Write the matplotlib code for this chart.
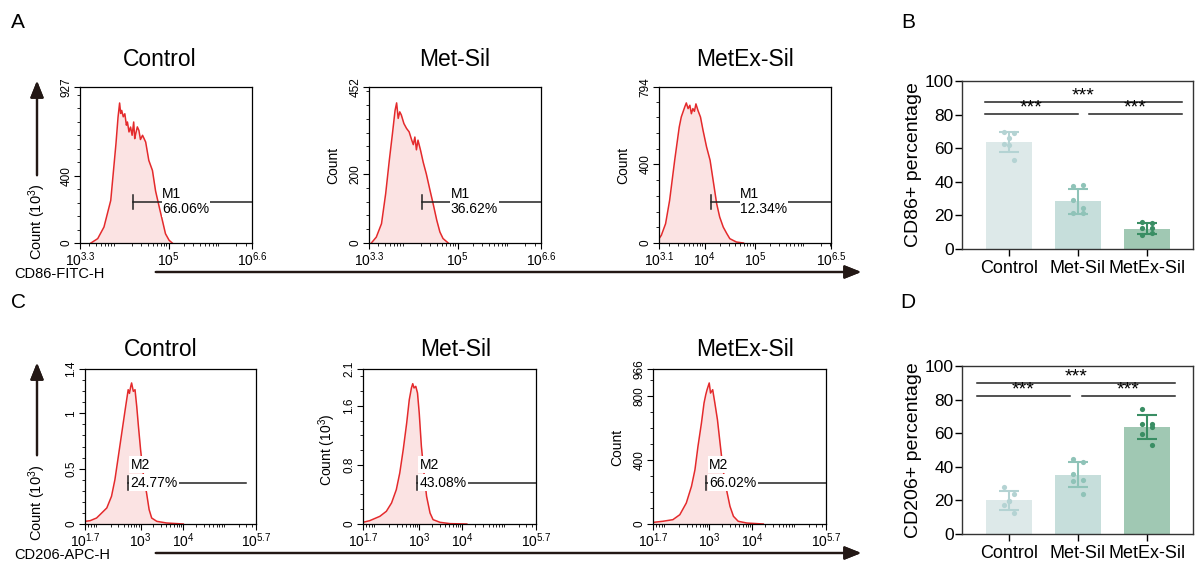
import numpy as np
import matplotlib.pyplot as plt
from matplotlib.ticker import MultipleLocator, LogLocator, NullFormatter

plt.rcParams['font.family'] = ['Liberation Sans', 'DejaVu Sans']
plt.rcParams['mathtext.default'] = 'regular'

W, H = 1196, 564
RED = '#e42a2c'
FILL = '#fbe3e3'

groups = ['Control', 'Met-Sil', 'MetEx-Sil']

# CD86 histograms, x = log10(intensity), y = count
cd86_ctrl_x = [3.51, 3.64, 3.76, 3.89, 3.99, 4.03, 4.06, 4.08, 4.10, 4.13, 4.16, 4.19, 4.21, 4.24,
               4.27, 4.30, 4.33, 4.35, 4.37, 4.40, 4.43, 4.46, 4.50, 4.56, 4.62, 4.69, 4.75,
               4.82, 4.88, 4.94, 5.01, 5.07]
cd86_ctrl_y = [0, 26, 95, 253, 590, 748, 832, 770, 788, 750, 768, 700, 719, 660, 689, 640, 719,
               620, 650, 690, 669, 615, 640, 600, 491, 431, 309, 214, 135, 55, 16, 0]
cd86_met_x = [3.345, 3.44, 3.54, 3.62, 3.69, 3.75, 3.80, 3.83, 3.86, 3.89, 3.92, 3.97, 4.02,
              4.07, 4.12, 4.15, 4.18, 4.21, 4.24, 4.29, 4.34, 4.40, 4.47, 4.53, 4.60, 4.66,
              4.72, 4.82]
cd86_met_y = [0, 17, 56, 143, 240, 317, 384, 406, 361, 380, 371, 346, 332, 322, 298, 285, 307,
              270, 298, 268, 234, 200, 153, 114, 66, 32, 13, 0]
cd86_metex_x = [3.10, 3.146, 3.23, 3.31, 3.41, 3.50, 3.54, 3.61, 3.64, 3.675, 3.71, 3.74, 3.77,
                3.80, 3.83, 3.87, 3.92, 3.97, 4.04, 4.11, 4.17, 4.24, 4.30, 4.37, 4.44, 4.50,
                4.63, 4.77]
cd86_metex_y = [22, 39, 98, 217, 421, 590, 641, 693, 713, 684, 701, 658, 684, 670, 708, 675,
                641, 574, 489, 421, 319, 200, 132, 81, 48, 22, 5, 0]

# CD206 histograms
cd206_ctrl_x = [1.70, 1.82, 1.97, 2.05, 2.21, 2.32, 2.40, 2.48, 2.56, 2.64, 2.71, 2.74, 2.77,
                2.79, 2.83, 2.87, 2.91, 2.95, 3.00, 3.06, 3.14, 3.20, 3.26, 3.38, 3.61, 4.00]
cd206_ctrl_y = [0.024, 0.030, 0.054, 0.084, 0.145, 0.250, 0.401, 0.611, 0.822, 1.033, 1.213,
                1.18, 1.243, 1.274, 1.198, 1.213, 1.062, 0.882, 0.672, 0.461, 0.280, 0.130,
                0.054, 0.024, 0.009, 0.0]
cd206_met_x = [1.70, 1.855, 2.09, 2.24, 2.36, 2.47, 2.55, 2.63, 2.71, 2.77, 2.82, 2.85, 2.88,
               2.92, 2.96, 3.00, 3.05, 3.11, 3.17, 3.25, 3.32, 3.48, 3.71, 4.10]
cd206_met_y = [0.023, 0.045, 0.104, 0.172, 0.285, 0.465, 0.691, 1.007, 1.368, 1.684, 1.843,
               1.901, 1.843, 1.865, 1.775, 1.504, 1.052, 0.691, 0.375, 0.149, 0.059, 0.023,
               0.005, 0.0]
cd206_metex_x = [1.70, 1.93, 2.16, 2.32, 2.47, 2.59, 2.67, 2.74, 2.82, 2.88, 2.92, 2.95, 3.00,
                 3.03, 3.08, 3.13, 3.19, 3.25, 3.32, 3.40, 3.48, 3.56, 3.67, 3.87, 4.25]
cd206_metex_y = [10, 17, 27, 58, 131, 235, 338, 484, 629, 754, 806, 837, 879, 816, 837, 754,
                 650, 505, 338, 213, 110, 48, 17, 6, 0]

# bar data
cd86_mean = [63.5, 28.5, 12.2]
cd86_sd = [6.0, 7.5, 3.2]
cd86_pts = [[69.7, 69.3, 66.3, 62.0, 62.5, 53.0],
            [37.4, 37.8, 29.1, 24.2, 21.6, 21.6],
            [16.2, 15.2, 12.3, 12.3, 8.3, 9.3]]
cd206_mean = [20.0, 35.2, 63.6]
cd206_sd = [5.5, 7.5, 7.0]
cd206_pts = [[27.7, 24.0, 19.4, 19.6, 17.0, 12.5],
             [44.6, 42.6, 35.6, 32.3, 31.5, 24.0],
             [74.3, 65.5, 65.5, 63.6, 59.4, 53.0]]
jitter = [-0.07, 0.07, -0.07, 0.07, -0.07, 0.07]
jitter_mid = [-0.07, 0.07, 0.0, 0.0, -0.07, 0.07]

bar_cols = ['#dde9e9', '#c6dedb', '#a0c8b3']
pt_cols = ['#b4d3d3', '#8fc3b8', '#3a8e64']

fig = plt.figure(figsize=(W / 100, H / 100), dpi=100)


def add_ax(l, t, r, b):
    return fig.add_axes([l / W, 1 - b / H, (r - l) / W, (b - t) / H])


def ftext(x, y, s, **kw):
    fig.text(x / W, 1 - y / H, s, **kw)


def farrow(x0, y0, x1, y1):
    fig.add_artist(plt.annotate('', xy=(x1 / W, 1 - y1 / H), xytext=(x0 / W, 1 - y0 / H),
                                xycoords='figure fraction',
                                arrowprops=dict(arrowstyle='-|>,head_length=1.0,head_width=0.4',
                                                color='#231815', lw=1.6)))


def hist(box, xs, ys, xlim, xt, xtl, ymax, yt, ytl, ymin_step, gate, gate_y, gate_end, label,
         style):
    ax = add_ax(*box)
    x = 10 ** np.array(xs)
    ax.fill_between(x, ys, color=FILL, lw=0)
    ax.plot(x, ys, color=RED, lw=1.1)
    ax.set_xscale('log')
    ax.set_xlim(10 ** xlim[0], 10 ** xlim[1])
    ax.set_ylim(0, ymax)
    ax.set_xticks([10 ** v for v in xt])
    ax.set_xticklabels(xtl, fontsize=10)
    ax.xaxis.set_minor_locator(LogLocator(base=10, subs=np.arange(2, 10), numticks=20))
    ax.xaxis.set_minor_formatter(NullFormatter())
    ax.set_yticks(yt)
    ax.set_yticklabels(ytl, fontsize=8.5, rotation=90, va='center')
    ax.yaxis.set_minor_locator(MultipleLocator(ymin_step))
    ax.tick_params(which='major', length=4, width=0.8, pad=1.5)
    ax.tick_params(which='minor', length=2.5, width=0.6)
    for s in ax.spines.values():
        s.set_linewidth(0.9)
    g = 10 ** gate
    ax.plot([g, 10 ** gate_end], [gate_y, gate_y], color='#222222', lw=1.1, zorder=3)
    ax.plot([g, g], [gate_y - ymax * 0.045, gate_y + ymax * 0.045], color='#222222', lw=1.1,
            zorder=3)
    name, pct = label
    if style == 'A':
        ax.annotate(name + '\n' + pct, xy=(g, gate_y), xytext=(21, 0), textcoords='offset points',
                    fontsize=10, va='center', ha='left', linespacing=1.1, zorder=4,
                    bbox=dict(fc='white', ec='none', pad=0.5))
    else:
        ax.annotate(pct, xy=(g, gate_y), xytext=(2, 0), textcoords='offset points',
                    fontsize=10, va='center', ha='left', zorder=4,
                    bbox=dict(fc='white', ec='none', pad=1))
        ax.annotate(name, xy=(g, gate_y), xytext=(2, 13), textcoords='offset points',
                    fontsize=10, va='center', ha='left', zorder=4,
                    bbox=dict(fc='white', ec='none', pad=1))
    return ax


# panel A
hist((80, 87, 252, 243), cd86_ctrl_x, cd86_ctrl_y, (3.3, 6.6), [3.3, 5, 6.6],
     ['10$^{3.3}$', '10$^{5}$', '10$^{6.6}$'], 927, [0, 400, 927], ['0', '400', '927'], 80,
     4.32, 244, 6.6, ('M1', '66.06%'), 'A')
hist((369, 87, 541, 243), cd86_met_x, cd86_met_y, (3.3, 6.6), [3.3, 5, 6.6],
     ['10$^{3.3}$', '10$^{5}$', '10$^{6.6}$'], 452, [0, 200, 452], ['0', '200', '452'], 40,
     4.31, 119, 6.6, ('M1', '36.62%'), 'A')
hist((659, 87, 831, 243), cd86_metex_x, cd86_metex_y, (3.1, 6.5), [3.1, 4, 5, 6.5],
     ['10$^{3.1}$', '10$^{4}$', '10$^{5}$', '10$^{6.5}$'], 794, [0, 400, 794],
     ['0', '400', '794'], 80, 4.13, 209, 6.5, ('M1', '12.34%'), 'A')

# panel C
hist((85, 369, 256, 524), cd206_ctrl_x, cd206_ctrl_y, (1.7, 5.7), [1.7, 3, 4, 5.7],
     ['10$^{1.7}$', '10$^{3}$', '10$^{4}$', '10$^{5.7}$'], 1.4, [0, 0.5, 1, 1.4],
     ['0', '0.5', '1', '1.4'], 0.1, 2.70, 0.373, 5.47, ('M2', '24.77%'), 'C')
hist((363, 369, 536, 524), cd206_met_x, cd206_met_y, (1.7, 5.7), [1.7, 3, 4, 5.7],
     ['10$^{1.7}$', '10$^{3}$', '10$^{4}$', '10$^{5.7}$'], 2.1, [0, 0.8, 1.6, 2.1],
     ['0', '0.8', '1.6', '2.1'], 0.2, 2.94, 0.56, 5.7, ('M2', '43.08%'), 'C')
hist((653, 369, 826, 524), cd206_metex_x, cd206_metex_y, (1.7, 5.7), [1.7, 3, 4, 5.7],
     ['10$^{1.7}$', '10$^{3}$', '10$^{4}$', '10$^{5.7}$'], 966, [0, 400, 800, 966],
     ['0', '400', '800', '966'], 100, 2.93, 257, 5.7, ('M2', '66.02%'), 'C')

# titles and labels
for x, s in zip([160, 455, 745], groups):
    ftext(x, 60, s, fontsize=16.5, ha='center', va='center')
for x, s in zip([161, 456, 745], groups):
    ftext(x, 349, s, fontsize=16.5, ha='center', va='center')

ftext(37, 222, 'Count (10$^3$)', fontsize=10.5, rotation=90, ha='center', va='center')
ftext(333, 165, 'Count', fontsize=10, rotation=90, ha='center', va='center')
ftext(623, 165, 'Count', fontsize=10, rotation=90, ha='center', va='center')
ftext(37, 503, 'Count (10$^3$)', fontsize=10.5, rotation=90, ha='center', va='center')
ftext(327, 450, 'Count (10$^{3}$)', fontsize=10, rotation=90, ha='center', va='center')
ftext(617, 447, 'Count', fontsize=10, rotation=90, ha='center', va='center')

ftext(14, 274, 'CD86-FITC-H', fontsize=10.5, ha='left', va='center')
ftext(14, 555, 'CD206-APC-H', fontsize=10.5, ha='left', va='center')

farrow(37, 178, 37, 78)
farrow(37, 458, 37, 360)
farrow(153, 272, 864, 272)
farrow(153, 553, 864, 553)

for x, y, s in [(18, 22, 'A'), (908, 22, 'B'), (18, 303, 'C'), (908, 303, 'D')]:
    ftext(x, y, s, fontsize=15, ha='center', va='center')


def bars(box, means, sds, pts, ylabel, lines):
    ax = add_ax(*box)
    pos = np.arange(len(groups))
    ax.bar(pos, means, width=0.67, color=bar_cols, zorder=1)
    for i in range(len(groups)):
        ax.errorbar(pos[i], means[i], yerr=sds[i], color=pt_cols[i], capsize=7, elinewidth=1.5,
                    capthick=1.5, zorder=2)
        jit = jitter_mid if i == 0 else jitter
        ax.scatter(pos[i] + np.array(jit), pts[i], s=14, color=pt_cols[i], zorder=3, lw=0)
    ax.set_xlim(-0.68, 2.67)
    ax.set_ylim(0, 100)
    ax.set_yticks(range(0, 101, 20))
    ax.set_xticks(pos)
    ax.set_xticklabels(groups, fontsize=13)
    ax.get_xticklabels()[2].set_x(2.08)
    ax.tick_params(axis='y', labelsize=12.5, length=5, width=1, pad=1)
    ax.tick_params(axis='x', length=5, width=1, pad=3)
    ax.set_ylabel(ylabel, fontsize=14, labelpad=2)
    for s in ax.spines.values():
        s.set_linewidth(1)
        s.set_color('#333333')
    for x0, x1, y in lines:
        ax.plot([x0, x1], [y, y], color='#222222', lw=1.1)
        ax.text((x0 + x1) / 2, y - 1.5, '***', fontsize=14, ha='center', va='bottom')
    return ax


bars((962, 81, 1193, 249), cd86_mean, cd86_sd, cd86_pts, 'CD86+ percentage',
     [(-0.35, 2.51, 87.3), (-0.35, 1.0, 80.2), (1.16, 2.51, 80.2)])
bars((962, 366, 1193, 534), cd206_mean, cd206_sd, cd206_pts, 'CD206+ percentage',
     [(-0.46, 2.41, 90.1), (-0.46, 0.885, 82.4), (1.06, 2.41, 82.4)])

fig.savefig('out.png', dpi=100)
